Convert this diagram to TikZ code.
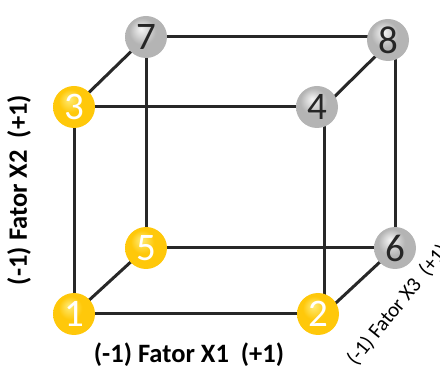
\documentclass[tikz,border=0pt]{standalone}
\usepackage{fontspec}
\setmainfont{Carlito}
\definecolor{goldA}{RGB}{255,236,120}
\definecolor{goldB}{RGB}{255,200,10}
\definecolor{goldC}{RGB}{235,160,0}
\definecolor{grayA}{RGB}{245,245,245}
\definecolor{grayB}{RGB}{180,180,180}
\definecolor{grayC}{RGB}{115,115,115}
\pgfdeclareradialshading{goldshade}{\pgfpoint{-6bp}{10bp}}{color(0bp)=(goldA); color(14bp)=(goldB); color(34bp)=(goldB); color(50bp)=(goldC)}
\pgfdeclareradialshading{grayshade}{\pgfpoint{-6bp}{10bp}}{color(0bp)=(grayA); color(16bp)=(grayB); color(34bp)=(grayB); color(50bp)=(grayC)}
\begin{document}
\begin{tikzpicture}[x=1pt,y=-1pt,
  ball/.style={circle,minimum size=42pt,inner sep=0pt,font=\fontsize{39}{39}\selectfont},
  goldball/.style={ball,shading=goldshade,text=white},
  grayball/.style={ball,shading=grayshade,text=black!85},
  edge/.style={line width=3pt,draw={rgb,255:red,40;green,40;blue,40}},
  axislabel/.style={font=\bfseries\fontsize{26.5}{26.5}\selectfont}]
\useasboundingbox (0,0) rectangle (440,374);
% corner coordinates
\coordinate (c1) at (74,314);
\coordinate (c2) at (324,314);
\coordinate (c3) at (74,107);
\coordinate (c4) at (324,107);
\coordinate (c5) at (146,248);
\coordinate (c6) at (395,248);
\coordinate (c7) at (146,37);
\coordinate (c8) at (395,37);
% edges
\draw[edge] (c1) -- (c2);
\draw[edge] (c3) -- (c4);
\draw[edge] (c5) -- (c6);
\draw[edge] (c7) -- (c8);
\draw[edge] (c1) -- (c3);
\draw[edge] (c2) -- (c4);
\draw[edge] (c5) -- (c7);
\draw[edge] (c6) -- (c8);
\draw[edge] (c1) -- (c5);
\draw[edge] (c2) -- (c6);
\draw[edge] (c3) -- (c7);
\draw[edge] (c4) -- (c8);
% balls
\node[goldball] (n1) at (c1) {1};
\node[goldball] (n2) at (318,314) {2};
\node[goldball] (n3) at (c3) {3};
\node[grayball] (n4) at (317,107) {4};
\node[goldball] (n5) at (c5) {5};
\node[grayball] (n6) at (c6) {6};
\node[grayball] (n7) at (c7) {7};
\node[grayball] (n8) at (388,40) {8};
% labels
\node[axislabel] (lx1) at (189,355) {(-1) Fator X1\ \ (+1)};
\node[axislabel,rotate=90] (lx2) at (19,190) {(-1) Fator X2\ \ (+1)};
\node[font=\fontsize{21}{21}\selectfont,rotate=51,inner sep=0pt] (lx3) at (398,305) {(-1) Fator X3\ \ (+1)};
\end{tikzpicture}
\end{document}
